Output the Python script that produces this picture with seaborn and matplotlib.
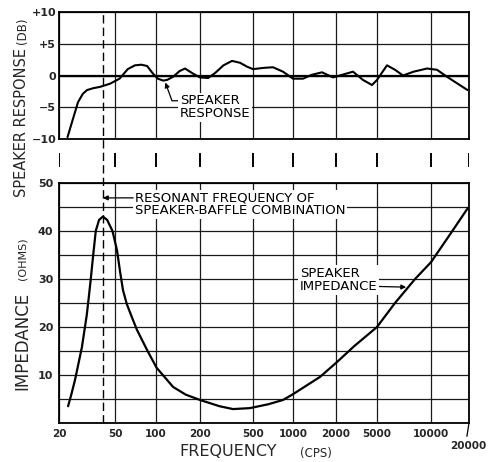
import numpy as np
import matplotlib
matplotlib.use("Agg")
import matplotlib.pyplot as plt
import seaborn as sns
from matplotlib.ticker import FixedLocator, NullLocator

# --- DATA ---
freq_ticks = [20, 50, 100, 200, 500, 1000, 2000, 5000, 10000, 20000]
freq_labels = ["20", "50", "100", "200", "500", "1000", "2000", "5000", "10000", ""]

db_ticks = [-10, -5, 0, 5, 10]
db_labels = ["\u221210", "\u22125", "0", "+5", "+10"]

ohm_ticks = [0, 5, 10, 15, 20, 25, 30, 35, 40, 45, 50]
ohm_labels = ["", "", "10", "", "20", "", "30", "", "40", "", "50"]

# speaker response (dB)
resp_freq = [23, 25, 27.3, 29.5, 31.6, 35, 39, 46, 54, 62, 70, 78, 86, 95, 103,
             112, 119, 131, 145, 158, 179, 200, 230, 260, 300, 348, 400, 450,
             500, 600, 707, 841, 1000, 1175, 1350, 1596, 1906, 2400, 2924, 3657,
             4470, 5000, 5683, 6300, 6979, 8000, 9500, 11156, 13389, 16000, 19500]
resp_db = [-9.7, -7.0, -4.2, -2.9, -2.3, -2.0, -1.8, -1.3, -0.5, 1.0, 1.6, 1.7, 1.5, 0.3, -0.5,
           -0.8, -0.7, -0.2, 0.7, 1.1, 0.3, -0.3, -0.4, 0.4, 1.6, 2.3, 2.0, 1.4,
           1.0, 1.2, 1.3, 0.6, -0.5, -0.5, 0.1, 0.5, -0.3, 0.2, 0.6, -0.7,
           -1.5, -0.7, 1.6, 0.9, 0.0, 0.6, 1.1, 0.9, -0.2, -1.2, -2.3]

# speaker impedance (ohms)
imp_freq = [23.2, 24.5, 26, 29.1, 31.5, 32.5, 33.5, 35, 36.5, 38.5, 41, 44, 48, 51.7, 54.5,
            57.2, 61, 66.6, 72.5, 86, 101, 131, 160, 200, 280, 354, 474, 650, 841, 1000,
            1545, 2045, 3000, 5000, 6300, 8150, 10000, 14937, 19600]
imp_ohms = [3.5, 6.0, 9.0, 15.8, 22.5, 26.0, 29.5, 35.0, 40.0, 42.3, 43.0, 42.3, 40.0, 36.0, 31.5,
            27.7, 24.8, 22.0, 19.4, 15.2, 11.5, 7.5, 5.9, 4.8, 3.5, 2.9, 3.1, 3.9, 4.8, 6.0,
            9.6, 12.7, 16.0, 20.0, 25.0, 30.0, 33.5, 40.2, 44.8]

resonant_freq = 41

# --- STYLE ---
sns.set_style("white")
plt.rcParams['font.family'] = ['DejaVu Sans']

W, H = 495, 462
fig = plt.figure(figsize=(W / 100, H / 100), dpi=100)


def box(l, t, r, b):
    return [l / W, 1 - b / H, (r - l) / W, (b - t) / H]


# the printed graph paper is only roughly logarithmic: spacing of its grid lines
paper_pos = np.array([0, 56, 97, 141, 194, 234, 277, 318, 372, 410]) / 410
paper_log = np.log10(freq_ticks)


def paper_fwd(f):
    return np.interp(np.log10(np.clip(f, 1e-6, None)), paper_log, paper_pos)


def paper_inv(p):
    return 10 ** np.interp(p, paper_pos, paper_log)


ax_top = fig.add_axes(box(59, 12, 469, 139))
ax_mid = fig.add_axes(box(59, 153, 469, 167))
ax_bot = fig.add_axes(box(59, 183, 469, 423))
ax_bot.set_zorder(3)

grid_kw = dict(color='0.1', lw=0.9)

for ax in (ax_top, ax_mid, ax_bot):
    ax.set_xscale('function', functions=(paper_fwd, paper_inv))
    ax.set_xlim(20, 20000)
    ax.xaxis.set_major_locator(FixedLocator(freq_ticks))
    ax.xaxis.set_minor_locator(NullLocator())
    ax.tick_params(length=0)

# top panel: response
sns.lineplot(x=resp_freq, y=resp_db, ax=ax_top, color='black', lw=1.5, estimator=None)
ax_top.set_xlim(20, 20000)
ax_top.set_ylim(-10, 10)
ax_top.set_yticks(db_ticks)
ax_top.set_yticklabels(db_labels, fontsize=8, fontweight='bold')
ax_top.tick_params(axis='y', pad=2)
ax_top.tick_params(labelbottom=False)
ax_top.grid(True, **grid_kw)
ax_top.axhline(0, color='black', lw=1.6, zorder=1)

# detached tick marks between the panels
ax_mid.set_ylim(0, 1)
ax_mid.set_yticks([])
ax_mid.tick_params(labelbottom=False)
ax_mid.grid(True, axis='x', color='black', lw=1.4)
ax_mid.patch.set_visible(False)
for s in ax_mid.spines.values():
    s.set_visible(False)

# bottom panel: impedance
sns.lineplot(x=imp_freq, y=imp_ohms, ax=ax_bot, color='black', lw=1.6, estimator=None)
ax_bot.set_xlim(20, 20000)
ax_bot.set_ylim(0, 50)
ax_bot.set_yticks(ohm_ticks)
ax_bot.set_yticklabels(ohm_labels, fontsize=8, fontweight='bold')
ax_bot.set_xticklabels(freq_labels, fontsize=7.5, fontweight='bold')
ax_bot.tick_params(axis='y', pad=4)
ax_bot.tick_params(axis='x', pad=4)
ax_bot.grid(True, **grid_kw)

for ax in (ax_top, ax_bot):
    ax.set_xlabel("")
    ax.set_ylabel("")
    for s in ax.spines.values():
        s.set_color('black')
        s.set_linewidth(1.3)

# resonant frequency dashed line through both panels
ax_bot.axvline(resonant_freq, ymin=0, ymax=(423 - 12) / 240, clip_on=False,
               color='black', lw=1.0, ls=(0, (6, 3)))

# --- ANNOTATIONS ---
txt_kw = dict(fontsize=9.5, color='black', linespacing=1.0)
white = dict(boxstyle='square,pad=0.12', fc='white', ec='none')

ax_top.annotate("SPEAKER\nRESPONSE", xy=(115, -0.9), xytext=(146, -5.0),
                ha='left', va='center', bbox=white, **txt_kw,
                arrowprops=dict(arrowstyle='-|>', color='black', lw=0.9, mutation_scale=7,
                                relpos=(0, 0.75), shrinkA=0, shrinkB=1,
                                connectionstyle='angle,angleA=0,angleB=110,rad=0'))

ax_bot.text(70, 45.6, "RESONANT FREQUENCY OF\nSPEAKER-BAFFLE COMBINATION",
            ha='left', va='center', bbox=white, **txt_kw)
ax_bot.annotate("", xy=(resonant_freq, 46.9), xytext=(68, 46.9),
                arrowprops=dict(arrowstyle='-|>', color='black', lw=0.9, mutation_scale=7,
                                shrinkA=0, shrinkB=0))

ax_bot.annotate("SPEAKER\nIMPEDANCE", xy=(7400, 28.3), xytext=(1119, 29.8),
                ha='left', va='center', bbox=white, **txt_kw,
                arrowprops=dict(arrowstyle='-|>', color='black', lw=0.9, mutation_scale=7,
                                relpos=(1, 0.25), shrinkA=0, shrinkB=1))

ax_bot.annotate("20000", xy=(20000, 0), xytext=(-1, -23), textcoords='offset pixels',
                ha='center', va='center', fontsize=7.5, fontweight='bold',
                arrowprops=dict(arrowstyle='-', color='black', lw=0.9,
                                relpos=(0.45, 1.0), shrinkA=1, shrinkB=1))

# --- AXIS LABELS ---
fig.text(22 / W, 1 - 197 / H, "SPEAKER RESPONSE", rotation=90, ha='center', va='bottom', fontsize=10.5)
fig.text(22 / W, 1 - 44 / H, "(DB)", rotation=90, ha='center', va='bottom', fontsize=8.5)
fig.text(22 / W, 1 - 390 / H, "IMPEDANCE", rotation=90, ha='center', va='bottom', fontsize=12)
fig.text(22 / W, 1 - 280 / H, "(OHMS)", rotation=90, ha='center', va='bottom', fontsize=8)
fig.text(228 / W, 1 - 452 / H, "FREQUENCY", ha='center', va='center', fontsize=11.5)
fig.text(316 / W, 1 - 453 / H, "(CPS)", ha='center', va='center', fontsize=8.5)

fig.savefig("out.png", dpi=100)
